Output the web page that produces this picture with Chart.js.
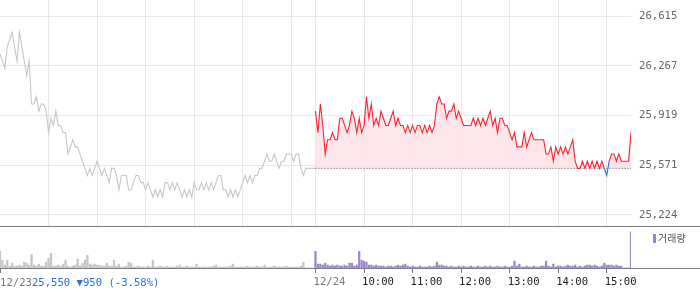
<!DOCTYPE html>
<html>
<head>
<meta charset="utf-8">
<script src="https://cdn.jsdelivr.net/npm/chart.js@4.4.1/dist/chart.umd.min.js"></script>
<style>
  body { margin: 0; background: #fff; }
  #wrap { position: relative; width: 700px; height: 289px; overflow: hidden; }
  #priceChart { position: absolute; left: 0; top: 0; width: 700px; height: 227px; }
  #volChart { position: absolute; left: 0; top: 227px; width: 700px; height: 62px; }
  #prev { position: absolute; left: 0; top: 276px; font: 10.6px 'DejaVu Sans Mono', monospace; line-height: 12px; white-space: nowrap; }
  #legend { position: absolute; left: 653px; top: 232px; font: 10px 'Noto Sans CJK KR'; color: #555; line-height: 12px; white-space: nowrap; }
  #legend i { display: inline-block; width: 3px; height: 9px; background: #9485c6; margin-right: 2px; vertical-align: -1px; }
</style>
</head>
<body>
<div id="wrap">
  <canvas id="priceChart" width="700" height="227"></canvas>
  <canvas id="volChart" width="700" height="62"></canvas>
  <div id="prev"></div>
  <div id="legend"><i></i>거래량</div>
</div>
<script>
// minutes since 09:00 of 12/23, one value every 3 minutes
const stepMin = 3;
const dayMinutes = 390;

const prevDate = '12/23';
const prevClose = 25550;
const prevChange = -950;
const prevChangePct = -3.58;

const day1Prices = [
  26350, 26300, 26250, 26400, 26450, 26500, 26400, 26300, 26500, 26400,
  26300, 26200, 26300, 26000, 26000, 26050, 25950, 26000, 26000, 25950,
  25800, 25900, 25850, 25950, 25850, 25850, 25800, 25800, 25650, 25700,
  25750, 25700, 25700, 25650, 25600, 25550, 25500, 25550, 25500, 25550,
  25600, 25550, 25500, 25550, 25500, 25450, 25550, 25550, 25500, 25400,
  25500, 25500, 25500, 25400, 25400, 25450, 25500, 25500, 25450, 25450,
  25400, 25450, 25400, 25350, 25400, 25350, 25400, 25350, 25450, 25450,
  25400, 25450, 25400, 25450, 25400, 25350, 25400, 25350, 25400, 25350,
  25450, 25400, 25400, 25450, 25400, 25450, 25400, 25450, 25400, 25450,
  25500, 25500, 25400, 25400, 25350, 25400, 25350, 25400, 25350, 25400,
  25450, 25500, 25450, 25500, 25450, 25500, 25500, 25550, 25550, 25600,
  25650, 25600, 25600, 25650, 25600, 25550, 25600, 25600, 25650, 25650,
  25650, 25600, 25650, 25650, 25550, 25500, 25550, 25550, 25550, 25550,
  25550
];

const day2Prices = [
  25950, 25800, 26000, 25850, 25650, 25750, 25750, 25800, 25750, 25750,
  25900, 25900, 25850, 25800, 25850, 25950, 25900, 25800, 25900, 25800,
  25850, 26050, 25900, 26000, 25850, 25900, 25850, 25950, 25900, 25850,
  25850, 25900, 25950, 25850, 25900, 25850, 25850, 25800, 25850, 25800,
  25850, 25800, 25850, 25850, 25800, 25850, 25800, 25850, 25800, 25850,
  26000, 26050, 26000, 26000, 25900, 25950, 25950, 26000, 25900, 25950,
  25900, 25850, 25850, 25850, 25850, 25900, 25850, 25900, 25850, 25900,
  25850, 25900, 25950, 25850, 25900, 25800, 25900, 25900, 25850, 25850,
  25800, 25750, 25800, 25700, 25700, 25700, 25800, 25700, 25750, 25800,
  25750, 25750, 25750, 25750, 25750, 25650, 25650, 25700, 25600, 25700,
  25650, 25700, 25650, 25700, 25650, 25700, 25750, 25600, 25550, 25550,
  25600, 25550, 25600, 25550, 25600, 25550, 25600, 25550, 25600, 25550,
  25500, 25600, 25650, 25650, 25600, 25650, 25600, 25600, 25600, 25600,
  25800
];

// volume in thousand shares
const day1Volume = [
  17, 8, 3, 8, 2, 5, 2, 2, 3, 2, 6, 5, 3, 14, 3, 2, 4, 2, 2, 6,
  10, 15, 2, 2, 3, 2, 4, 8, 2, 1, 2, 3, 9, 2, 5, 8, 13, 4, 3, 4,
  3, 3, 2, 2, 5, 2, 2, 8, 2, 4, 1, 1, 2, 6, 5, 1, 1, 2, 1, 1,
  1, 2, 1, 8, 1, 1, 2, 1, 1, 2, 1, 1, 1, 2, 3, 1, 1, 2, 1, 1,
  1, 4, 1, 1, 1, 1, 1, 1, 2, 3, 1, 1, 1, 1, 1, 2, 4, 1, 1, 1,
  1, 1, 2, 1, 1, 1, 2, 1, 1, 3, 1, 1, 1, 2, 1, 1, 1, 1, 2, 1,
  1, 1, 1, 1, 2, 6, 0, 0, 0, 0, 0
];

const day2Volume = [
  17, 4, 4, 3, 5, 3, 2, 3, 2, 3, 2, 2, 3, 2, 5, 5, 2, 3, 17, 8,
  7, 6, 3, 3, 2, 3, 2, 2, 2, 1, 2, 2, 1, 2, 3, 2, 3, 4, 2, 1,
  2, 1, 1, 2, 1, 1, 1, 2, 1, 2, 6, 3, 3, 2, 2, 1, 2, 1, 1, 2,
  1, 2, 1, 1, 2, 1, 1, 2, 1, 1, 2, 1, 2, 1, 1, 2, 1, 1, 2, 1,
  1, 2, 7, 2, 4, 1, 1, 2, 1, 1, 2, 1, 1, 2, 2, 7, 2, 1, 4, 1,
  2, 2, 1, 2, 3, 2, 2, 3, 1, 2, 1, 2, 3, 3, 2, 3, 2, 1, 2, 5,
  3, 3, 3, 2, 3, 2, 2, 0, 0, 0, 37
];

const yTicks = [25224, 25571, 25919, 26267, 26615];
const gridMinutes = [60, 120, 180, 240, 300, 360, 390, 450, 510, 570, 630, 690, 750];
const axisMinutes = [0, 390, 450, 510, 570, 630, 690, 750];
const axisLabels = ['', '12/24', '10:00', '11:00', '12:00', '13:00', '14:00', '15:00'];

const toPoints = (arr, start) => arr.map((v, i) => ({ x: start + i * stepMin, y: v }));

document.getElementById('prev').innerHTML =
  '<span style="color:#777">' + prevDate + '</span>' +
  '<span style="color:#2b6fd9">' + prevClose.toLocaleString('en-US') + ' ' +
  (prevChange < 0 ? '▼' : '▲') + Math.abs(prevChange) + ' (' + prevChangePct.toFixed(2) + '%)</span>';

// full width panel border under each chart area
const frameLine = {
  id: 'frameLine',
  afterDraw(chart) {
    const { ctx, chartArea } = chart;
    const y = Math.round(chartArea.bottom) + 0.5;
    ctx.save();
    ctx.strokeStyle = '#7d7d7d';
    ctx.lineWidth = 1;
    ctx.beginPath();
    ctx.moveTo(0, y);
    ctx.lineTo(chart.width, y);
    ctx.stroke();
    ctx.restore();
  }
};

const monoFont = { family: "'DejaVu Sans Mono', monospace", size: 10.6 };

new Chart(document.getElementById('priceChart'), {
  type: 'line',
  data: {
    datasets: [
      {
        data: toPoints(day2Prices, dayMinutes),
        borderWidth: 1.1,
        pointRadius: 0,
        tension: 0,
        borderColor: '#ff2233',
        segment: {
          borderColor: c => (c.p0.parsed.y < prevClose || c.p1.parsed.y < prevClose) ? '#2f6fd6' : '#ff2233'
        },
        fill: { target: { value: prevClose }, above: 'rgba(252, 226, 229, 0.85)', below: 'rgba(222, 232, 250, 0.85)' },
        order: 0
      },
      {
        data: [{ x: dayMinutes, y: prevClose }, { x: dayMinutes * 2, y: prevClose }],
        borderColor: '#555',
        borderWidth: 1,
        borderDash: [1, 2],
        pointRadius: 0,
        fill: false,
        order: 1
      },
      {
        data: toPoints(day1Prices, 0),
        borderColor: '#c6c6ce',
        borderWidth: 1.1,
        pointRadius: 0,
        tension: 0,
        fill: false,
        order: 2
      }
    ]
  },
  options: {
    responsive: false,
    animation: false,
    events: [],
    layout: { padding: { top: 0, left: 0, right: 0, bottom: 1 } },
    plugins: {
      legend: { display: false },
      tooltip: { enabled: false },
      filler: { drawTime: 'beforeDatasetsDraw' }
    },
    scales: {
      x: {
        type: 'linear',
        min: 0,
        max: dayMinutes * 2,
        afterBuildTicks: s => { s.ticks = gridMinutes.map(v => ({ value: v })); },
        ticks: { display: false },
        grid: { color: '#e8e8e8', drawTicks: false },
        border: { display: false }
      },
      y: {
        position: 'right',
        min: 25147,
        max: 26727,
        afterBuildTicks: s => { s.ticks = yTicks.map(v => ({ value: v })); },
        afterFit: s => { s.width = 69; s.paddingTop = 0; s.paddingBottom = 0; },
        ticks: {
          padding: 8,
          color: '#666',
          font: monoFont,
          callback: v => v.toLocaleString('en-US')
        },
        grid: { color: '#e8e8e8', drawTicks: false },
        border: { display: false }
      }
    }
  },
  plugins: [frameLine]
});

new Chart(document.getElementById('volChart'), {
  type: 'bar',
  data: {
    datasets: [
      { data: toPoints(day1Volume, 0), backgroundColor: '#c4c4cb', barThickness: 1.6, grouped: false },
      { data: toPoints(day2Volume, dayMinutes), backgroundColor: '#9a88c9', barThickness: 1.6, grouped: false }
    ]
  },
  options: {
    responsive: false,
    animation: false,
    events: [],
    layout: { padding: { top: 0, left: 0, right: 69, bottom: 0 } },
    plugins: { legend: { display: false }, tooltip: { enabled: false } },
    scales: {
      x: {
        type: 'linear',
        offset: false,
        min: 0,
        max: dayMinutes * 2,
        afterBuildTicks: s => { s.ticks = axisMinutes.map(v => ({ value: v })); },
        afterFit: s => { s.height = 21; s.paddingLeft = 0; s.paddingRight = 0; },
        ticks: {
          autoSkip: false,
          maxRotation: 0,
          align: 'start',
          labelOffset: -2,
          padding: 3,
          font: monoFont,
          color: c => (axisLabels[axisMinutes.indexOf(c.tick.value)] || '').includes('/') ? '#777' : '#222',
          callback: v => axisLabels[axisMinutes.indexOf(v)]
        },
        grid: { offset: false, drawOnChartArea: false, drawTicks: true, tickLength: 5, tickColor: '#777' },
        border: { display: false }
      },
      y: {
        display: false,
        min: 0,
        max: 42
      }
    }
  },
  plugins: [frameLine]
});
</script>
</body>
</html>
